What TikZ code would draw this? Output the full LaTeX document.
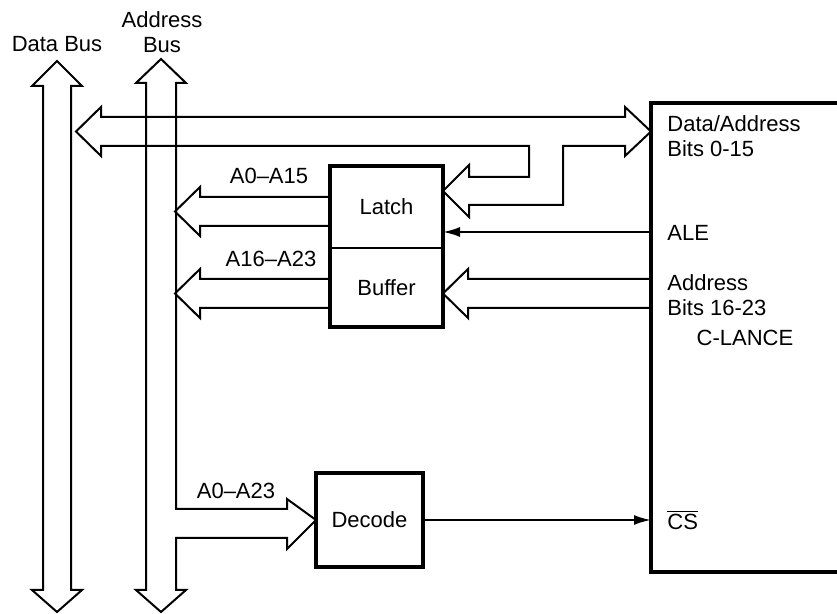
\documentclass[tikz,border=0pt]{standalone}
\usepackage{fontspec}
\setmainfont{Liberation Sans}
\usetikzlibrary{arrows.meta,positioning,calc}
\newcommand{\lnfont}{\fontsize{11}{12.5}\selectfont}
\tikzset{
  lnunit/.style={
    draw=none, outer sep=0pt, inner sep=0pt,
    minimum width=56.5pt, font=\lnfont
  },
  lnframe/.style={line width=2pt, line join=miter},
  lnbus/.style={line width=1pt, line join=miter},
  lnedge/.style={-{Latex[length=8.5pt,width=5pt]}, line width=1pt},
  lnlabel/.style={font=\lnfont, inner sep=0pt, align=center},
  lnpin/.style={font=\lnfont, inner sep=0pt, anchor=west, align=left}
}
\begin{document}
\begin{tikzpicture}[x=0.5pt,y=-0.5pt]
  \useasboundingbox (0,0) rectangle (837,614);
  % boxes
  \node[lnunit,minimum height=41pt] (latch) at (386.5,207) {Latch};
  \node[lnunit,minimum height=39.5pt,below=0pt of latch] (buf) {Buffer};
  \node[lnunit,minimum width=53.5pt,minimum height=47pt] (dec) at (369.5,520) {Decode};
  \node[lnunit,anchor=north west,minimum width=110pt,minimum height=234.5pt] (lance) at (651,103) {};
  \draw[lnframe] (latch.north west) rectangle (buf.south east);
  \draw[lnbus] (latch.south west) -- (latch.south east);
  \draw[lnframe] (dec.north west) rectangle (dec.south east);
  \draw[lnframe] (lance.north east) -- (lance.north west) -- (lance.south west) -- (lance.south east);

  % bus labels
  \node[lnlabel] (dbus) at (57,44) {Data Bus};
  \node[lnlabel] (abus) at (162,32) {Address\\Bus};
  \node[lnlabel] (lo) at (269,176) {A0--A15};
  \node[lnlabel] (hi) at (271,259) {A16--A23};
  \node[lnlabel] (all) at (236,491) {A0--A23};

  % pins of the C-LANCE
  \node[lnpin] (pda) at (667,136) {Data/Address\\Bits 0-15};
  \node[lnpin] (pale) at (667,233) {ALE};
  \node[lnpin] (padr) at (667,295) {Address\\Bits 16-23};
  \node[lnlabel] (chip) at (745,338) {C-LANCE};
  \node[lnpin] (pcs) at (667,520) {$\overline{\mbox{CS}}$};

  % data bus
  \draw[lnbus] (43,590) -- (43,86) -- (32,86) -- (57,61) -- (82,86) -- (71,86)
    -- (71,590) -- (82,590) -- (57,612) -- (32,590) -- cycle;
  % address bus, with branch to decode
  \draw[lnbus] (176,509) -- (176,83) -- (186,83) -- (161,59) -- (136,83) -- (146,83)
    -- (146,590) -- (136,590) -- (161,612) -- (186,590) -- (176,590) -- (176,538)
    -- (287,538) -- (287,549) -- (dec.west) -- (287,499) -- (287,509) -- cycle;
  % data/address lines, with branch to latch
  \draw[lnbus] (101,117) -- (625,117) -- (625,107) -- (lance.west |- 0,131.5)
    -- (625,156) -- (625,146) -- (563,146) -- (563,205) -- (469,205) -- (469,217)
    -- (latch.east |- 0,191) -- (469,165) -- (469,177) -- (529,177) -- (529,146)
    -- (101,146) -- (101,156) -- (76,131.5) -- (101,107) -- cycle;
  % latch out
  \draw[lnbus] (latch.west |- 0,197) -- (200,197) -- (200,187) -- (175,211.5)
    -- (200,236) -- (200,226) -- (latch.west |- 0,226);
  % buffer out
  \draw[lnbus] (buf.west |- 0,279) -- (200,279) -- (200,269) -- (175,293.5)
    -- (200,318) -- (200,308) -- (buf.west |- 0,308);
  % buffer in
  \draw[lnbus] (lance.west |- 0,279) -- (468,279) -- (468,269) -- (buf.east |- 0,293.5)
    -- (468,318) -- (468,308) -- (lance.west |- 0,308);

  % control lines
  \coordinate (ale) at (651,232);
  \draw[lnedge] (ale) -- (latch.east |- ale);
  \draw[lnedge] (dec.east) -- (lance.west |- dec.east);
\end{tikzpicture}
\end{document}
